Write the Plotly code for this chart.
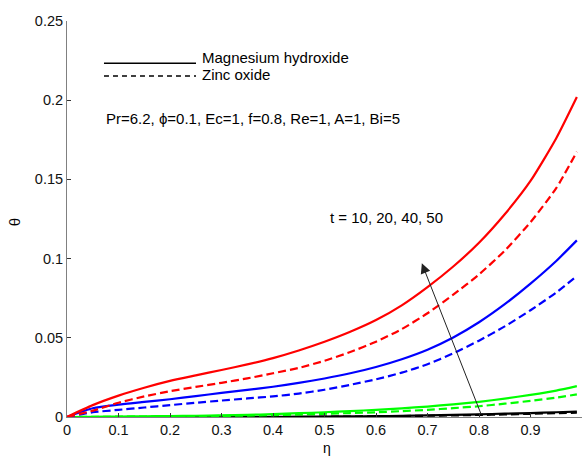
import plotly.graph_objects as go

eta = [0, 0.05, 0.1, 0.15, 0.2, 0.25, 0.3, 0.35, 0.4, 0.45, 0.5,
       0.55, 0.6, 0.65, 0.7, 0.75, 0.8, 0.85, 0.9, 0.95, 0.99]

# t = 50 (red), 40 (blue), 20 (green), 10 (black)
red_mg = [0, 0.0075, 0.0135, 0.0185, 0.0228, 0.0263, 0.0297, 0.0332, 0.0372, 0.042, 0.0475,
          0.0538, 0.0612, 0.0705, 0.082, 0.095, 0.110, 0.128, 0.149, 0.176, 0.202]
red_zn = [0, 0.004, 0.009, 0.013, 0.0163, 0.019, 0.0216, 0.0244, 0.0276, 0.031, 0.0355,
          0.041, 0.0475, 0.0555, 0.0655, 0.0772, 0.090, 0.105, 0.123, 0.1445, 0.1675]
blue_mg = [0, 0.0055, 0.0078, 0.0095, 0.0112, 0.0132, 0.0152, 0.0171, 0.0191, 0.0215, 0.0243,
           0.0276, 0.0316, 0.0365, 0.0425, 0.0502, 0.0598, 0.0712, 0.0842, 0.0985, 0.1115]
blue_zn = [0, 0.003, 0.0045, 0.006, 0.0075, 0.009, 0.0104, 0.0117, 0.013, 0.0148, 0.0172,
           0.0203, 0.0238, 0.028, 0.0333, 0.0402, 0.0482, 0.0572, 0.0674, 0.0786, 0.089]
green_mg = [0, 0.0001, 0.0003, 0.0004, 0.0006, 0.0008, 0.001, 0.0014, 0.0018, 0.0024, 0.003,
            0.0037, 0.0045, 0.0055, 0.0066, 0.008, 0.0096, 0.0116, 0.014, 0.0167, 0.0195]
green_zn = [0, 0.0001, 0.0002, 0.0003, 0.0004, 0.0005, 0.0007, 0.0009, 0.0012, 0.0016, 0.002,
            0.0025, 0.003, 0.0037, 0.0045, 0.0056, 0.0068, 0.0084, 0.0102, 0.0122, 0.0143]
black_mg = [0, 0, 0, 0, 0, 0, 0, 0.0001, 0.0001, 0.0002, 0.0003,
            0.0004, 0.0005, 0.0007, 0.001, 0.0013, 0.0017, 0.0021, 0.0025, 0.003, 0.0034]
black_zn = [0, 0, 0, 0, 0, 0, 0, 0, 0.0001, 0.0001, 0.0002,
            0.0003, 0.0004, 0.0006, 0.0008, 0.001, 0.0013, 0.0016, 0.002, 0.0024, 0.0027]

x_ticks = [0, 0.1, 0.2, 0.3, 0.4, 0.5, 0.6, 0.7, 0.8, 0.9, 1]
y_ticks = [0, 0.05, 0.1, 0.15, 0.2, 0.25]

legend_names = ["Magnesium hydroxide", "Zinc oxide"]
param_text = "Pr=6.2, ϕ=0.1, Ec=1, f=0.8, Re=1, A=1, Bi=5"
t_text = "t = 10, 20, 40, 50"

FONT = "Liberation Sans, Arial, sans-serif"

fig = go.Figure()

series = [
    (black_mg, "#000000", "solid"), (black_zn, "#000000", "dash"),
    (green_mg, "#00ff00", "solid"), (green_zn, "#00ff00", "dash"),
    (blue_mg, "#0000ff", "solid"), (blue_zn, "#0000ff", "dash"),
    (red_mg, "#ff0000", "solid"), (red_zn, "#ff0000", "dash"),
]
for ys, col, dash in series:
    fig.add_trace(go.Scatter(
        x=eta, y=ys, mode="lines",
        line=dict(color=col, width=2.2, dash="8px,4px" if dash == "dash" else "solid",
                  shape="spline", smoothing=0.6),
        showlegend=False, hoverinfo="skip"))

axis_common = dict(
    showgrid=False, zeroline=False, showline=True, linecolor="#808080", linewidth=1,
    ticks="inside", ticklen=4, tickcolor="#333333", tickwidth=1,
    tickfont=dict(family=FONT, size=14.5, color="#111111"), mirror=False,
)

fig.update_layout(
    width=584, height=457,
    margin=dict(l=67, r=2, t=21, b=40),
    paper_bgcolor="white", plot_bgcolor="white",
    xaxis=dict(range=[0, 1], tickvals=x_ticks, ticktext=[f"{v:g}" for v in x_ticks], **axis_common),
    yaxis=dict(range=[0, 0.25], tickvals=y_ticks, ticktext=[f"{v:g}" for v in y_ticks], **axis_common),
    showlegend=False,
)

# legend samples (paper coordinates)
leg_x0, leg_x1 = 0.0718, 0.2505
fig.add_shape(type="line", xref="paper", yref="paper", x0=leg_x0, x1=leg_x1, y0=0.893, y1=0.893,
              line=dict(color="black", width=1.5))
fig.add_shape(type="line", xref="paper", yref="paper", x0=leg_x0, x1=leg_x1, y0=0.861, y1=0.861,
              line=dict(color="black", width=1.5, dash="5px,4px"))
fig.add_annotation(xref="paper", yref="paper", x=0.2583, y=0.909, text=legend_names[0],
                   showarrow=False, xanchor="left", yanchor="middle",
                   font=dict(family=FONT, size=15, color="black"))
fig.add_annotation(xref="paper", yref="paper", x=0.2583, y=0.866, text=legend_names[1],
                   showarrow=False, xanchor="left", yanchor="middle",
                   font=dict(family=FONT, size=15, color="black"))

fig.add_annotation(xref="paper", yref="paper", x=0.0718, y=0.755, text=param_text,
                   showarrow=False, xanchor="left", yanchor="middle",
                   font=dict(family=FONT, size=15, color="black"))

fig.add_annotation(xref="x", yref="y", x=0.507, y=0.126, text=t_text,
                   showarrow=False, xanchor="left", yanchor="middle",
                   font=dict(family=FONT, size=15, color="black"))

# arrow
fig.add_annotation(xref="x", yref="y", axref="x", ayref="y",
                   x=0.689, y=0.097, ax=0.805, ay=0.001, text="",
                   showarrow=True, arrowhead=2, arrowsize=2, arrowwidth=1, arrowcolor="#222222")

# axis titles
fig.add_annotation(xref="paper", yref="paper", x=0.505, y=0, yshift=-31, text="η",
                   showarrow=False, xanchor="center", yanchor="middle",
                   font=dict(family=FONT, size=14, color="black"))
fig.add_annotation(xref="paper", yref="paper", x=0, xshift=-53, y=0.492, text="θ",
                   showarrow=False, xanchor="center", yanchor="middle", textangle=-90,
                   font=dict(family=FONT, size=15, color="black"))

fig.write_html("out.html")
